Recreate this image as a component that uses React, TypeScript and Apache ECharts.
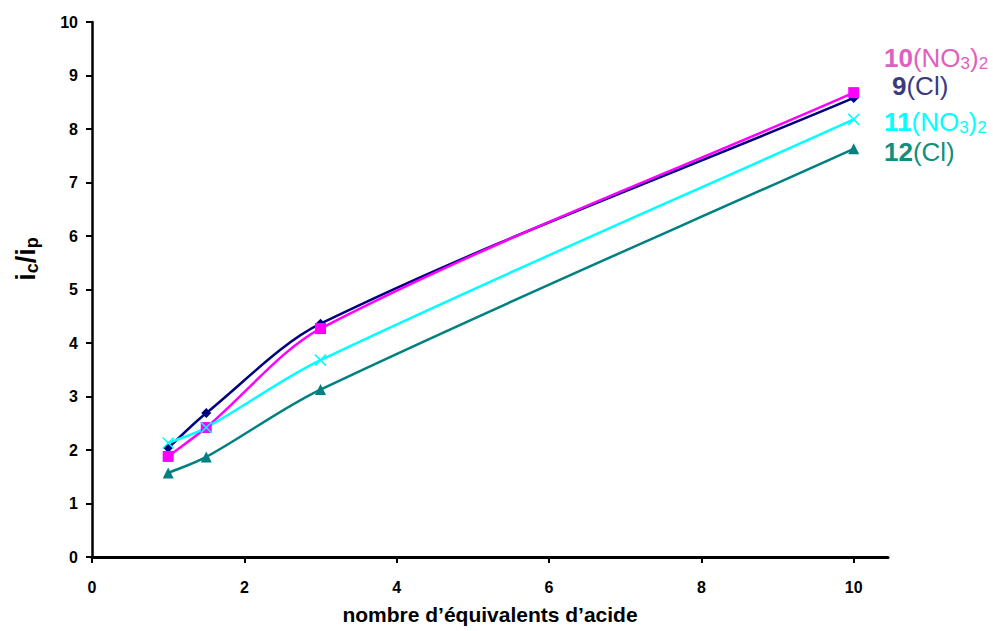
import React, { useEffect, useRef } from "react";
import * as echarts from "echarts";

const xValues = [1, 1.5, 3, 10];
const s9Cl = [2.04, 2.69, 4.36, 8.58];
const s10NO3 = [1.88, 2.42, 4.27, 8.68];
const s11NO3 = [2.13, 2.42, 3.68, 8.18];
const s12Cl = [1.57, 1.87, 3.13, 7.63];
const xTicks = [0, 2, 4, 6, 8, 10];

const FONT = "Liberation Sans, Arial, sans-serif";

const pairs = (ys: number[]) => xValues.map((x, i) => [x, ys[i]]);

// Smoothed curve (cubic Hermite with finite-difference slopes) in pixel space via library coords
const smoothCurve = (ys: number[], color: string, z: number) => ({
  type: "custom",
  data: [[0]],
  z,
  silent: true,
  renderItem: (params: any, api: any) => {
    const pts = xValues.map((x, i) => api.coord([x, ys[i]]));
    const n = pts.length;
    const slopes = pts.map((p, i) => {
      const a = pts[Math.max(0, i - 1)];
      const b = pts[Math.min(n - 1, i + 1)];
      return (b[1] - a[1]) / (b[0] - a[0]);
    });
    let d = `M${pts[0][0]},${pts[0][1]}`;
    for (let i = 0; i < n - 1; i++) {
      const p1 = pts[i];
      const p2 = pts[i + 1];
      const h = (p2[0] - p1[0]) / 3;
      d += ` C${p1[0] + h},${p1[1] + slopes[i] * h} ${p2[0] - h},${p2[1] - slopes[i + 1] * h} ${p2[0]},${p2[1]}`;
    }
    return {
      type: "path",
      shape: { pathData: d },
      style: { fill: "none", stroke: color, lineWidth: 2.5 },
    };
  },
});

export default function App() {
  const ref = useRef<HTMLDivElement>(null);
  useEffect(() => {
    if (!ref.current) return;
    const chart = echarts.init(ref.current, null, { renderer: "svg" });
    const markers = (name: string, data: number[], color: string, symbol: string, size: number, z: number, extra: any = {}) => ({
      name,
      type: "line",
      data: pairs(data),
      symbol,
      symbolSize: size,
      lineStyle: { opacity: 0 },
      itemStyle: { color, ...extra },
      z,
    });
    const label = (x: number, y: number, num: string, sub: boolean, color: string) => ({
      type: "text",
      x,
      y,
      style: {
        text: sub ? `{b|${num}}{n|(NO}{s|3}{n|)}{s|2}` : `{b|${num}}{n|(Cl)}`,
        verticalAlign: "middle",
        align: "left",
        rich: {
          b: { fontSize: 26, lineHeight: 20, fontWeight: "bold", fontFamily: FONT, fill: color },
          n: { fontSize: 26, lineHeight: 20, fontFamily: FONT, fill: color },
          s: { fontSize: 17, lineHeight: 12, fontFamily: FONT, fill: color, padding: [10, 0, 0, 0] },
        },
      },
    });
    chart.setOption({
      animation: false,
      backgroundColor: "#ffffff",
      grid: { left: 92, right: 105, top: 22, bottom: 74, containLabel: false, outerBoundsMode: "none" },
      xAxis: {
        type: "value",
        min: 0,
        max: 10.45,
        interval: 2,
        splitLine: { show: false },
        axisLine: { lineStyle: { color: "#000", width: 3 } },
        axisTick: { show: true, length: 6, lineStyle: { color: "#000", width: 2 }, customValues: xTicks },
        axisLabel: { customValues: xTicks, margin: 22, color: "#000", fontWeight: "bold", fontSize: 16, fontFamily: FONT },
        name: "nombre d’équivalents d’acide",
        nameLocation: "middle",
        nameGap: 47,
        nameTextStyle: { color: "#000", fontWeight: "bold", fontSize: 21, fontFamily: FONT },
      },
      yAxis: {
        type: "value",
        min: 0,
        max: 10,
        interval: 1,
        splitLine: { show: false },
        axisLine: { show: true, lineStyle: { color: "#000", width: 2.5 } },
        axisTick: { show: true, length: 6, lineStyle: { color: "#000", width: 2 } },
        axisLabel: { margin: 14, color: "#000", fontWeight: "bold", fontSize: 16, fontFamily: FONT },
      },
      series: [
        smoothCurve(s9Cl, "#000080", 2),
        smoothCurve(s10NO3, "#ff00ff", 3),
        smoothCurve(s11NO3, "#00ffff", 4),
        smoothCurve(s12Cl, "#008080", 5),
        markers("9(Cl)", s9Cl, "#000080", "diamond", 10, 6),
        markers("10(NO3)2", s10NO3, "#ff00ff", "rect", 11, 7),
        markers("11(NO3)2", s11NO3, "#00ffff", "path://M0,0L10,10M10,0L0,10", 11, 8, { borderColor: "#00ffff", borderWidth: 1.5, color: "transparent" }),
        markers("12(Cl)", s12Cl, "#008080", "triangle", 11, 9),
      ],
      graphic: [
        {
          type: "text",
          x: 26,
          y: 259,
          rotation: Math.PI / 2,
          style: {
            text: "{m|i}{s|c}{m|/i}{s|p}",
            align: "center",
            verticalAlign: "middle",
            rich: {
              m: { fontSize: 27, fontWeight: "bold", fontFamily: FONT, fill: "#000" },
              s: { fontSize: 18, fontWeight: "bold", fontFamily: FONT, fill: "#000", padding: [12, 0, 0, 0] },
            },
          },
        },
        label(884, 58, "10", true, "#e060c0"),
        label(892, 86, "9", false, "#3a3a80"),
        label(884, 122, "11", true, "#00ffff"),
        label(884, 152, "12", false, "#10907a"),
      ],
    });
    return () => chart.dispose();
  }, []);
  return <div ref={ref} style={{ width: 993, height: 631, position: "absolute", left: 0, top: 0 }} />;
}
